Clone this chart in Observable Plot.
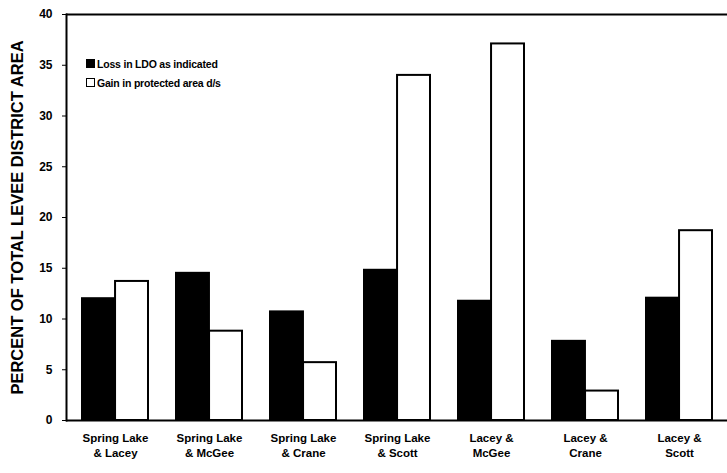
<!DOCTYPE html>
<html>
<head>
<meta charset="utf-8">
<script src="https://cdn.jsdelivr.net/npm/d3@7"></script>
<script src="https://cdn.jsdelivr.net/npm/@observablehq/plot@0.6"></script>
<style>
  body { margin: 0; background: #fff; }
  #wrap { position: relative; width: 727px; height: 473px; }
  #legend { position: absolute; left: 86px; top: 54px; font-family: "Liberation Sans", Arial, sans-serif; font-weight: bold; font-size: 10.5px; color: #000; letter-spacing: -0.2px; }
  #legend .row { display: flex; align-items: center; height: 19px; }
  #legend .sw { width: 7px; height: 7px; border: 1.5px solid #000; margin-right: 2px; box-sizing: content-box; }
</style>
</head>
<body>
<div id="wrap"></div>
<script>
const categories = ["Spring Lake\n& Lacey", "Spring Lake\n& McGee", "Spring Lake\n& Crane", "Spring Lake\n& Scott", "Lacey &\nMcGee", "Lacey &\nCrane", "Lacey &\nScott"];
const series = ["Loss in LDO as indicated", "Gain in protected area d/s"];
const loss = [12.0, 14.5, 10.7, 14.8, 11.75, 7.8, 12.05];
const gain = [13.7, 8.8, 5.7, 34.0, 37.1, 2.9, 18.7];
const yTicks = [0, 5, 10, 15, 20, 25, 30, 35, 40];
const colors = ["#000", "#fff"];

const W = 727, ML = 66, MR = 0;
const step = (W - ML - MR) / categories.length;
const half = step * 0.7 / 2;

const lossData = categories.map((c, i) => ({cat: c, value: loss[i]}));
const gainData = categories.map((c, i) => ({cat: c, value: gain[i]}));

const chart = Plot.plot({
  width: W, height: 473,
  marginLeft: ML, marginRight: MR, marginTop: 14, marginBottom: 53,
  style: {fontFamily: "'Liberation Sans', Arial, sans-serif", fontWeight: "bold", fontSize: "12px", color: "#000", background: "#fff"},
  x: {domain: categories, paddingInner: 0.3, paddingOuter: 0.15},
  y: {domain: [0, 40]},
  marks: [
    Plot.barY(lossData, {x: "cat", y: "value", insetRight: half, fill: colors[0], stroke: "#000", strokeWidth: 2}),
    Plot.barY(gainData, {x: "cat", y: "value", insetLeft: half, fill: colors[1], stroke: "#000", strokeWidth: 2}),
    Plot.ruleY([0, 40], {stroke: "#000", strokeWidth: 2}),
    Plot.frame({anchor: "left", stroke: "#000", strokeWidth: 2}),
    Plot.axisY({ticks: yTicks, tickSize: 4, tickPadding: 10, fontSize: 12, label: "PERCENT OF TOTAL LEVEE DISTRICT AREA", labelAnchor: "center", labelArrow: false, labelOffset: 55}),
    Plot.axisX({label: null, tickSize: 0, tickPadding: 10, fontSize: 11.5, lineHeight: 1.35})
  ]
});
const wrap = document.getElementById("wrap");
wrap.appendChild(chart);
chart.querySelectorAll("g[aria-label='y-axis label'] text").forEach(t => { t.style.fontSize = "16.5px"; });

const legend = document.createElement("div");
legend.id = "legend";
series.forEach((s, i) => {
  const row = document.createElement("div");
  row.className = "row";
  const sw = document.createElement("span");
  sw.className = "sw";
  sw.style.background = colors[i];
  const lab = document.createElement("span");
  lab.textContent = s;
  row.appendChild(sw); row.appendChild(lab);
  legend.appendChild(row);
});
wrap.appendChild(legend);
</script>
</body>
</html>
